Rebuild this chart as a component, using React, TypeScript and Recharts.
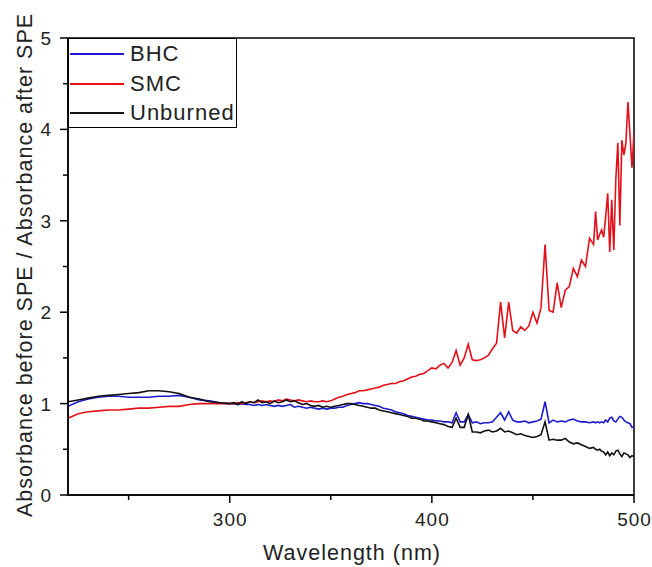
import React from 'react';
import { LineChart, Line, XAxis, YAxis, ReferenceArea, Legend } from 'recharts';

const wavelengths = [
  220, 225, 230, 235, 240, 245, 250, 255, 260, 265, 270, 275, 280, 285, 290, 295, 300,
  302, 304, 306, 308, 310, 312, 314, 316, 318, 320, 322, 324, 326, 328, 330, 332, 334, 336, 338, 340,
  342, 344, 346, 348, 350, 352, 354, 356, 358, 360, 362, 364, 366, 368, 370, 372, 374, 376, 378, 380,
  382, 384, 386, 388, 390, 392, 394, 396, 398, 400, 402, 404, 406, 408, 410, 412, 414, 416, 418, 420,
  422, 424, 426, 428, 430, 432, 434, 436, 438, 440, 442, 444, 446, 448, 450, 452, 454, 456, 458, 460,
  462, 464, 466, 468, 470, 472, 474, 476, 478, 480,
  481, 482, 483, 484, 485, 486, 487, 488, 489, 490, 491, 492, 493, 494, 495, 496, 497, 498, 499, 500,
];

const smc = [
  0.84, 0.89, 0.91, 0.92, 0.93, 0.93, 0.94, 0.95, 0.95, 0.96, 0.97, 0.97, 0.99, 1.0, 1.0, 1.0, 1.0,
  1.0, 1.01, 1.0, 1.01, 1.02, 1.01, 1.02, 1.03, 1.02, 1.03, 1.02, 1.04, 1.03, 1.05, 1.04, 1.03, 1.04, 1.03, 1.02, 1.03,
  1.02, 1.02, 1.03, 1.02, 1.03, 1.05, 1.07, 1.08, 1.1, 1.11, 1.12, 1.14, 1.14, 1.15, 1.16, 1.17, 1.18, 1.2, 1.21, 1.22,
  1.22, 1.24, 1.25, 1.27, 1.29, 1.3, 1.32, 1.33, 1.36, 1.39, 1.38, 1.42, 1.44, 1.39, 1.45, 1.58, 1.42, 1.5, 1.65, 1.48,
  1.47, 1.48, 1.5, 1.53, 1.6, 1.66, 2.11, 1.72, 2.11, 1.8, 1.77, 1.84, 1.8, 1.85, 2.0, 1.88, 2.05, 2.74, 2.02, 2.0,
  2.32, 2.05, 2.24, 2.28, 2.48, 2.39, 2.57, 2.5, 2.81, 2.74,
  3.1, 2.79, 2.85, 2.9, 2.82, 3.05, 3.3, 2.66, 3.23, 2.68, 3.45, 3.85, 2.95, 3.88, 3.72, 3.85, 4.3, 3.95, 3.58, 3.95,
];

const bhc = [
  0.97, 1.02, 1.05, 1.07, 1.08, 1.08, 1.07, 1.07, 1.07, 1.08, 1.08, 1.09, 1.07, 1.04, 1.03, 1.01, 1.0,
  1.0, 0.99, 1.0, 0.99, 0.99, 0.98, 0.99, 0.98, 0.99, 0.98, 0.97, 0.98, 0.97, 0.98, 0.99, 0.96, 0.97, 0.96, 0.95, 0.96,
  0.95, 0.94, 0.95, 0.94, 0.95, 0.95, 0.96, 0.96, 0.98, 0.99, 1.0, 1.01, 1.0, 1.0, 0.99, 0.98, 0.97, 0.95, 0.94, 0.93,
  0.91, 0.9, 0.89, 0.87, 0.86, 0.85, 0.84, 0.83, 0.82, 0.82, 0.81, 0.81, 0.8, 0.8, 0.79, 0.9, 0.8, 0.8, 0.88, 0.79,
  0.8, 0.78, 0.79, 0.79, 0.8, 0.85, 0.9, 0.82, 0.91, 0.82, 0.8, 0.8, 0.81, 0.79, 0.8, 0.81, 0.83, 1.02, 0.79, 0.82,
  0.8, 0.81, 0.8, 0.82, 0.83, 0.81, 0.8, 0.8, 0.79, 0.8,
  0.79, 0.8, 0.79, 0.8, 0.79, 0.82, 0.8, 0.84, 0.85, 0.81, 0.8, 0.83, 0.86, 0.85, 0.82, 0.8, 0.79, 0.78, 0.74, 0.75,
];

const unburned = [
  1.02, 1.04, 1.06, 1.08, 1.09, 1.1, 1.11, 1.12, 1.14, 1.14, 1.13, 1.11, 1.07, 1.05, 1.02, 1.01, 1.0,
  1.01, 0.99, 1.02, 1.0, 1.02, 1.01, 1.04, 1.01, 1.02, 1.0, 1.03, 1.01, 1.02, 1.04, 1.02, 1.03, 1.01, 0.99, 1.0, 0.98,
  0.97, 0.98, 0.96, 0.97, 0.96, 0.97, 0.98, 0.99, 1.0, 1.0, 0.99, 0.98, 0.97, 0.96, 0.95, 0.95, 0.93, 0.92, 0.91, 0.9,
  0.89, 0.88, 0.87, 0.86, 0.84, 0.84, 0.83, 0.81, 0.81, 0.8, 0.79, 0.78, 0.77, 0.75, 0.74, 0.84, 0.74, 0.74, 0.88, 0.69,
  0.69, 0.68, 0.7, 0.71, 0.69, 0.7, 0.73, 0.69, 0.7, 0.68, 0.66, 0.67, 0.65, 0.64, 0.63, 0.64, 0.66, 0.8, 0.6, 0.61,
  0.6, 0.6, 0.62, 0.58, 0.56, 0.57, 0.55, 0.53, 0.51, 0.52,
  0.5, 0.49, 0.5, 0.48, 0.47, 0.44, 0.47, 0.43, 0.46, 0.44, 0.48, 0.49, 0.45, 0.42, 0.46, 0.45, 0.44, 0.41, 0.43, 0.42,
];

const xTicks = [250, 300, 350, 400, 450, 500];
const xLabeled = [300, 400, 500];
const yTicks = [0, 0.5, 1, 1.5, 2, 2.5, 3, 3.5, 4, 4.5, 5];
const yLabeled = [0, 1, 2, 3, 4, 5];
const seriesNames = ['BHC', 'SMC', 'Unburned'];
const seriesColors = ['#1c1ccc', '#e3101a', '#111111'];
const xTitle = 'Wavelength (nm)';
const yTitle = 'Absorbance before SPE / Absorbance after SPE';

const data = wavelengths.map((w, i) => ({
  w,
  BHC: bhc[i],
  SMC: smc[i],
  Unburned: unburned[i],
}));

const FONT = '"Liberation Sans", Arial, Helvetica, sans-serif';

const XTick = (props: any) => {
  const { x, y, payload } = props;
  const major = xLabeled.includes(payload.value);
  return (
    <g>
      <line x1={x} y1={y} x2={x} y2={y + (major ? 8 : 5)} stroke="#000" strokeWidth={1.5} />
      {major && (
        <text x={x + 0.5} y={y + 31} textAnchor="middle" fontSize={19} letterSpacing={1} fontFamily={FONT} fill="#222">
          {payload.value}
        </text>
      )}
    </g>
  );
};

const YTick = (props: any) => {
  const { x, y, payload } = props;
  const major = yLabeled.includes(payload.value);
  return (
    <g>
      <line x1={x} y1={y} x2={x - (major ? 8 : 5)} y2={y} stroke="#000" strokeWidth={1.5} />
      {major && (
        <text x={x - 17} y={y + 7} textAnchor="end" fontSize={19} fontFamily={FONT} fill="#222">
          {payload.value}
        </text>
      )}
    </g>
  );
};

const LegendBox = () => (
  <div
    style={{
      position: 'relative',
      width: 169,
      height: 90,
      border: '1.5px solid #000',
      boxSizing: 'border-box',
      background: '#fff',
      fontFamily: FONT,
    }}
  >
    {seriesNames.map((name, i) => (
      <div key={name} style={{ position: 'absolute', left: 0, top: 2 + i * 29.5, height: 26, width: 169 }}>
        <div
          style={{
            position: 'absolute',
            left: 1,
            top: 12,
            width: 54,
            height: 0,
            borderTop: `2px solid ${seriesColors[i]}`,
          }}
        />
        <div
          style={{
            position: 'absolute',
            left: 61,
            top: 0,
            fontSize: 22,
            letterSpacing: 1,
            lineHeight: '26px',
            color: '#222',
            whiteSpace: 'nowrap',
          }}
        >
          {name}
        </div>
      </div>
    ))}
  </div>
);

export default function App() {
  return (
    <div style={{ position: 'absolute', left: 0, top: 0, width: 652, height: 567, background: '#fff' }}>
      <LineChart width={652} height={567} data={data} margin={{ top: 38, right: 18, bottom: 0, left: 0 }}>
        <XAxis
          dataKey="w"
          type="number"
          domain={[220, 500]}
          allowDataOverflow
          ticks={xTicks}
          interval={0}
          tickLine={false}
          tickSize={0}
          tickMargin={0}
          tick={<XTick />}
          height={72}
          axisLine={{ stroke: '#000', strokeWidth: 1.5 }}
          label={{
            content: () => (
              <text x={352} y={560} textAnchor="middle" fontSize={21.5} letterSpacing={1} fontFamily={FONT} fill="#222">
                {xTitle}
              </text>
            ),
          }}
        />
        <YAxis
          type="number"
          domain={[0, 5]}
          allowDataOverflow
          ticks={yTicks}
          interval={0}
          tickLine={false}
          tickSize={0}
          tickMargin={0}
          tick={<YTick />}
          width={68}
          axisLine={{ stroke: '#000', strokeWidth: 1.5 }}
          label={{
            content: () => (
              <text
                x={0}
                y={0}
                transform="translate(32 265) rotate(-90)"
                textAnchor="middle"
                fontSize={21.5}
                letterSpacing={1}
                fontFamily={FONT}
                fill="#222"
              >
                {yTitle}
              </text>
            ),
          }}
        />
        <ReferenceArea x1={220} x2={500} y1={0} y2={5} fill="none" fillOpacity={0} stroke="#000" strokeWidth={1.5} />
        {seriesNames.map((name, i) => (
          <Line
            key={name}
            dataKey={name}
            type="linear"
            stroke={seriesColors[i]}
            strokeWidth={1.6}
            dot={false}
            activeDot={false}
            isAnimationActive={false}
          />
        ))}
        <Legend
          layout="vertical"
          align="center"
          verticalAlign="middle"
          wrapperStyle={{ left: 68, top: 38, width: 169, height: 90 }}
          content={<LegendBox />}
        />
      </LineChart>
    </div>
  );
}
